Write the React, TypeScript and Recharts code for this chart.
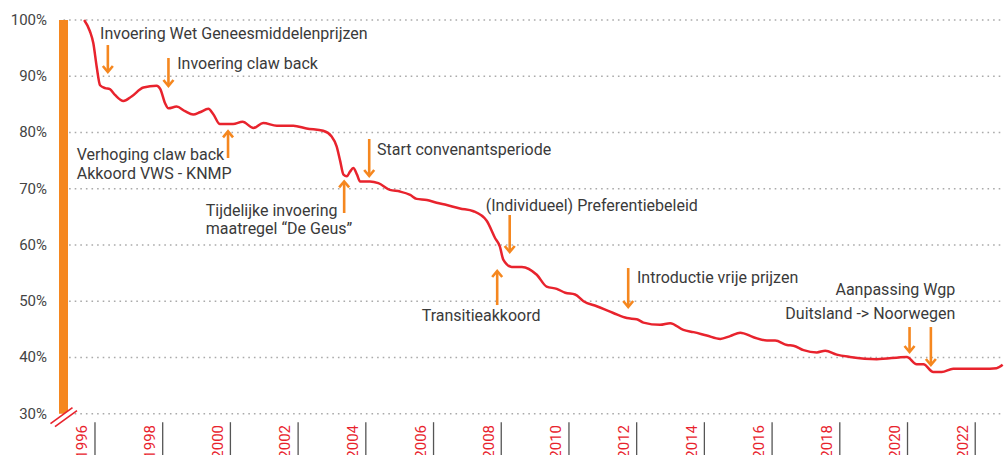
import React from 'react';
import { LineChart, Line, XAxis, YAxis, CartesianGrid, ReferenceLine, ReferenceDot } from 'recharts';

const years = [
  1996.68, 1996.85, 1996.95, 1997.05, 1997.15, 1997.3, 1997.44, 1997.59, 1997.84, 1998.08,
  1998.43, 1998.82, 1998.93, 1999.07, 1999.17, 1999.41, 1999.66, 1999.9, 2000.1, 2000.35,
  2000.49, 2000.69, 2001.08, 2001.36, 2001.68, 2001.97, 2002.37, 2002.86, 2003.25, 2003.74,
  2003.99, 2004.14, 2004.24, 2004.34, 2004.44, 2004.53, 2004.63, 2004.74, 2004.83, 2005.12,
  2005.37, 2005.71, 2006.01, 2006.31, 2006.5, 2006.8, 2007.09, 2007.39, 2007.78, 2008.18,
  2008.57, 2008.82, 2008.96, 2009.06, 2009.31, 2009.61, 2010.05, 2010.34, 2010.64, 2010.89,
  2011.18, 2011.43, 2011.82, 2012.31, 2012.71, 2013.0, 2013.2, 2013.69, 2013.99, 2014.38,
  2014.68, 2015.07, 2015.47, 2015.76, 2016.06, 2016.45, 2016.85, 2017.09, 2017.44, 2017.63,
  2017.93, 2018.32, 2018.57, 2018.91, 2019.3, 2020.09, 2020.98, 2021.27, 2021.47, 2021.76,
  2022.01, 2022.35, 2023.24, 2023.63, 2023.81,
];
const shares = [
  100, 98.0, 95.9, 91.7, 88.4, 87.9, 87.7, 86.7, 85.6, 86.4,
  88.0, 88.3, 87.7, 85.2, 84.3, 84.6, 83.8, 83.2, 83.6, 84.2,
  83.3, 81.5, 81.5, 81.9, 80.8, 81.7, 81.2, 81.2, 80.7, 80.3,
  79.3, 77.5, 75.0, 72.5, 72.2, 73.0, 73.7, 72.5, 71.3, 71.3,
  71.0, 69.8, 69.5, 68.9, 68.2, 68.0, 67.5, 67.1, 66.5, 66.0,
  64.3, 61.2, 59.7, 57.4, 56.1, 56.1, 54.7, 52.6, 52.2, 51.5,
  51.2, 50.0, 49.1, 47.9, 47.0, 46.8, 46.2, 45.8, 46.1, 44.9,
  44.5, 43.9, 43.3, 43.8, 44.4, 43.6, 43.0, 43.0, 42.2, 42.1,
  41.3, 40.9, 41.2, 40.5, 40.1, 39.7, 40.1, 38.8, 38.8, 37.4,
  37.4, 38.0, 38.0, 38.1, 38.7,
];

const yTicks = [30, 40, 50, 60, 70, 80, 90, 100];
const xTicks = [1997, 1999, 2001, 2003, 2005, 2007, 2009, 2011, 2013, 2015, 2017, 2019, 2021, 2023];
const xTickLabels = ['1996', '1998', '2000', '2002', '2004', '2006', '2008', '2010', '2012', '2014', '2016', '2018', '2020', '2022'];

const noteTexts = [
  ['Invoering Wet Geneesmiddelenprijzen'],
  ['Invoering claw back'],
  ['Verhoging claw back', 'Akkoord VWS - KNMP'],
  ['Tijdelijke invoering', 'maatregel \u201CDe Geus\u201D'],
  ['Start convenantsperiode'],
  ['(Individueel) Preferentiebeleid'],
  ['Transitieakkoord'],
  ['Introductie vrije prijzen'],
  ['Aanpassing Wgp'],
  ['Duitsland -> Noorwegen'],
];
const noteYears = [1997.15, 1999.43, 1996.46, 2000.27, 2005.33, 2008.54, 2006.65, 2013.01, 2022.41, 2022.41];
const noteValues = [97.69, 92.35, 76.17, 66.22, 77.06, 67.1, 47.55, 54.3, 52.17, 47.9];
const noteAnchors = ['start', 'start', 'start', 'start', 'start', 'start', 'start', 'start', 'end', 'end'];

const arrowYears = [1997.38, 1999.17, 2000.93, 2004.36, 2005.1, 2009.25, 2008.88, 2012.75, 2021.06, 2021.69];
const arrowFrom = [95.55, 93.24, 75.46, 65.68, 78.84, 65.33, 49.32, 55.9, 45.41, 45.41];
const arrowTo = [90.75, 88.26, 80.2, 71.3, 72.26, 58.75, 55.37, 48.97, 40.97, 38.66];

const data = years.map((year, i) => ({ year, share: shares[i] }));

const RED = '#e8232d';
const ORANGE = '#f5871f';
const TEXT = '#3a3a3a';
const FONT = 'Roboto, "Noto Sans", sans-serif';

const XTick = (props: any) => {
  const { x, y, payload } = props;
  const idx = xTicks.indexOf(payload.value);
  const label = idx >= 0 ? xTickLabels[idx] : '';
  return (
    <g>
      <line x1={x} x2={x} y1={y + 8.5} y2={y + 50} stroke="#555" strokeWidth={1.3} />
      <text
        transform={`translate(${x - 7.7},${y + 11.3}) rotate(-90)`}
        textAnchor="end"
        fill={RED}
        fontSize={15}
        fontFamily={FONT}
      >
        {label}
      </text>
    </g>
  );
};

const YTick = (props: any) => {
  const { x, y, payload } = props;
  const ax = x + 16.5;
  return (
    <g>
      {payload.value === 30 && (
        <g>
          <polygon
            points={`${ax - 13},${y + 10} ${ax + 9},${y - 6} ${ax + 13.5},${y - 3} ${ax - 8.5},${y + 13}`}
            fill="#fff"
          />
          <line x1={ax - 13} y1={y + 10} x2={ax + 9} y2={y - 6} stroke={RED} strokeWidth={1.6} />
          <line x1={ax - 8.5} y1={y + 13} x2={ax + 13.5} y2={y - 3} stroke={RED} strokeWidth={1.6} />
        </g>
      )}
      <text x={x} y={y + 5} textAnchor="end" fill="#444" fontSize={15} fontFamily={FONT}>
        {`${payload.value}%`}
      </text>
    </g>
  );
};

const Arrow = (p: any) => {
  const { x1, y1, x2, y2 } = p;
  const dir = y2 > y1 ? 1 : -1;
  return (
    <g>
      <line x1={x1} y1={y1} x2={x2} y2={y2 - dir * 1.5} stroke={ORANGE} strokeWidth={2.6} />
      <polyline
        points={`${x2 - 5},${y2 - dir * 6} ${x2},${y2} ${x2 + 5},${y2 - dir * 6}`}
        fill="none"
        stroke={ORANGE}
        strokeWidth={2.6}
      />
    </g>
  );
};

const makeNote = (i: number) => (p: any) => {
  const { cx, cy } = p;
  return (
    <text
      x={cx}
      y={cy + 5.6}
      textAnchor={noteAnchors[i] as any}
      fill={TEXT}
      fontSize={16}
      fontFamily={FONT}
    >
      {noteTexts[i].map((t, k) => (
        <tspan key={k} x={cx} dy={k === 0 ? 0 : 18.9}>
          {t}
        </tspan>
      ))}
    </text>
  );
};

export default function App() {
  return (
    <div style={{ position: 'absolute', left: 0, top: 0, width: 1004, height: 455, background: '#fff' }}>
      <LineChart width={1004} height={455} data={data} margin={{ top: 20, right: 0, bottom: 0, left: 0 }}>
        <CartesianGrid vertical={false} stroke="#aaa" strokeWidth={1.6} strokeDasharray="1.6 4" />
        <XAxis
          dataKey="year"
          type="number"
          domain={[1996.07, 2023.85]}
          allowDataOverflow
          ticks={xTicks}
          interval={0}
          axisLine={false}
          tickLine={false}
          tickSize={0}
          tickMargin={0}
          height={41.3}
          tick={<XTick />}
        />
        <YAxis
          type="number"
          domain={[30, 100]}
          ticks={yTicks}
          interval={0}
          width={63.5}
          axisLine={{ stroke: ORANGE, strokeWidth: 9 }}
          tickLine={false}
          tickSize={0}
          tickMargin={16.5}
          tick={<YTick />}
        />
        {arrowYears.map((ay, i) => (
          <ReferenceLine
            key={`a${i}`}
            segment={[{ x: ay, y: arrowFrom[i] }, { x: ay, y: arrowTo[i] }]}
            shape={Arrow}
            ifOverflow="visible"
          />
        ))}
        {noteYears.map((ny, i) => (
          <ReferenceDot key={`n${i}`} x={ny} y={noteValues[i]} r={0} ifOverflow="visible" shape={makeNote(i)} />
        ))}
        <Line
          type="monotone"
          dataKey="share"
          stroke={RED}
          strokeWidth={2.5}
          dot={false}
          isAnimationActive={false}
        />
      </LineChart>
    </div>
  );
}
